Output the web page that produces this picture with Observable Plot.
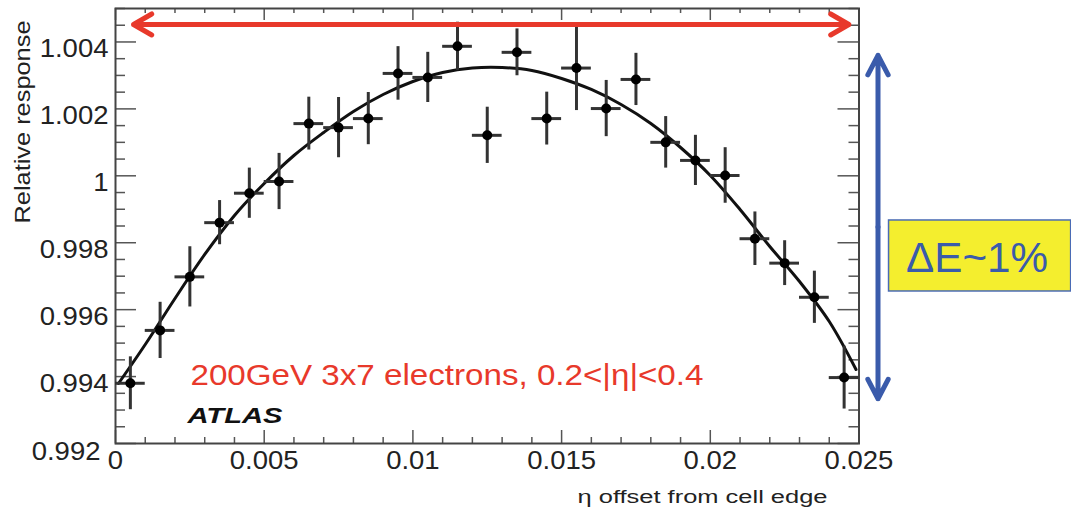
<!DOCTYPE html>
<html>
<head>
<meta charset="utf-8">
<script src="https://cdn.jsdelivr.net/npm/d3@7"></script>
<script src="https://cdn.jsdelivr.net/npm/@observablehq/plot@0.6"></script>
<style>
  html, body { margin: 0; padding: 0; background: #fff; }
  #chart { width: 1071px; height: 510px; overflow: hidden; }
</style>
</head>
<body>
<div id="chart"></div>
<script>
// ---- data ----
const etaOffset = [0.0005, 0.0015, 0.0025, 0.0035, 0.0045, 0.0055, 0.0065, 0.0075, 0.0085, 0.0095,
                   0.0105, 0.0115, 0.0125, 0.0135, 0.0145, 0.0155, 0.0165, 0.0175, 0.0185, 0.0195,
                   0.0205, 0.0215, 0.0225, 0.0235, 0.0245];
const response = [0.99380, 0.99538, 0.99698, 0.99860, 0.99948, 0.99983, 1.00156, 1.00144, 1.00171, 1.00306,
                  1.00294, 1.00387, 1.00121, 1.00369, 1.00171, 1.00322, 1.00201, 1.00288, 1.00100, 1.00046,
                  1.00001, 0.99812, 0.99739, 0.99637, 0.99397];
const responseErr = [0.00079, 0.00084, 0.00090, 0.00066, 0.00075, 0.00084, 0.00079, 0.00090, 0.00078, 0.00080,
                     0.00075, 0.00072, 0.00084, 0.00070, 0.00079, 0.00127, 0.00084, 0.00078, 0.00077, 0.00075,
                     0.00083, 0.00080, 0.00067, 0.00078, 0.00094];
const binHalfWidth = 0.0005;

// fitted curve
const fitX = [0.0001, 0.001, 0.002, 0.003, 0.004, 0.005, 0.006, 0.007, 0.008, 0.009, 0.010, 0.011, 0.012,
              0.013, 0.014, 0.015, 0.016, 0.017, 0.018, 0.019, 0.020, 0.021, 0.022, 0.023, 0.024, 0.0249];
const fitY = [0.993793, 0.994959, 0.996334, 0.997649, 0.998814, 0.999770, 1.000607, 1.001295, 1.001922,
              1.002430, 1.002819, 1.003088, 1.003222, 1.003237, 1.003148, 1.002909, 1.002580, 1.002132,
              1.001564, 1.000846, 1.000010, 0.998993, 0.997888, 0.996842, 0.995646, 0.994212];

// axes
const xDomain = [0, 0.025];
const yDomain = [0.992, 1.005];
const xTickValues = [0, 0.005, 0.01, 0.015, 0.02, 0.025];
const xTickLabels = ["0", "0.005", "0.01", "0.015", "0.02", "0.025"];
const xMinorTicks = [0.001, 0.002, 0.003, 0.004, 0.006, 0.007, 0.008, 0.009, 0.011, 0.012, 0.013, 0.014,
                     0.016, 0.017, 0.018, 0.019, 0.021, 0.022, 0.023, 0.024];
const yTickValues = [0.992, 0.994, 0.996, 0.998, 1.0, 1.002, 1.004];
const yTickLabels = ["0.992", "0.994", "0.996", "0.998", "1", "1.002", "1.004"];
const yMinorTicks = [0.9925, 0.993, 0.9935, 0.9945, 0.995, 0.9955, 0.9965, 0.997, 0.9975, 0.9985, 0.999,
                     0.9995, 1.0005, 1.001, 1.0015, 1.0025, 1.003, 1.0035, 1.0045, 1.005];
const xLabel = "\u03b7 offset from cell edge";
const yLabel = "Relative response";

// annotations (data units)
const noteText = "200GeV 3x7 electrons, 0.2<|\u03b7|<0.4";
const noteAt = {x: 0.00252, y: 0.99375};
const atlasText = "ATLAS";
const atlasAt = {x: 0.00242, y: 0.99261};
const redArrow = {x1: 0.000606, x2: 0.02466, y: 1.004522};
const blueArrow = {x: 0.025639, y1: 0.993336, y2: 1.0036};
const deltaBox = {x1: 0.026010, x2: 0.032133, y1: 0.996543, y2: 0.998665};
const deltaText = "\u0394E~1%";
const deltaAt = {x: 0.02897, y: 0.99714};

const points = etaOffset.map((x, i) => ({x, y: response[i], e: responseErr[i]}));
const fit = fitX.map((x, i) => ({x, y: fitY[i]}));

// ---- layout ----
const W = 1071, H = 510;
const mL = 115, mR = 212.5, mT = 8, mB = 67;
const FW = W - mL - mR, FH = H - mT - mB;
const tickColor = "#555";
const red = "#e8392b", blue = "#3a5bab";
const arrowWidth = 5;

const svg = Plot.plot({
  width: W, height: H,
  marginLeft: mL, marginRight: mR, marginTop: mT, marginBottom: mB,
  style: {fontFamily: "'Liberation Sans', Arial, Helvetica, sans-serif", fontSize: "25px", color: "#222", background: "#fff"},
  x: {domain: xDomain},
  y: {domain: yDomain},
  marks: [
    Plot.axisX({ticks: xTickValues, tickFormat: d => xTickLabels[xTickValues.indexOf(d)], tickSize: 0, tickPadding: 8, label: null, fontSize: 25}),
    Plot.axisY({ticks: yTickValues, tickFormat: d => yTickLabels[yTickValues.indexOf(d)], tickSize: 0, tickPadding: 7, dy: 7, label: null, fontSize: 25}),
    // inward ROOT-style ticks
    Plot.ruleY(yTickValues, {insetRight: FW - 21, stroke: tickColor, strokeWidth: 1.5}),
    Plot.ruleY(yMinorTicks, {insetRight: FW - 10, stroke: tickColor, strokeWidth: 1.5}),
    Plot.ruleY(yTickValues, {insetLeft: FW - 21, stroke: tickColor, strokeWidth: 1.5}),
    Plot.ruleY(yMinorTicks, {insetLeft: FW - 10, stroke: tickColor, strokeWidth: 1.5}),
    Plot.ruleX(xTickValues, {insetTop: FH - 13, stroke: tickColor, strokeWidth: 1.5}),
    Plot.ruleX(xMinorTicks, {insetTop: FH - 6, stroke: tickColor, strokeWidth: 1.5}),
    Plot.ruleX(xTickValues, {insetBottom: FH - 12, stroke: tickColor, strokeWidth: 1.5}),
    Plot.ruleX(xMinorTicks, {insetBottom: FH - 5, stroke: tickColor, strokeWidth: 1.5}),
    Plot.frame({stroke: "#444", strokeWidth: 2}),
    // fit
    Plot.line(fit, {x: "x", y: "y", curve: "catmull-rom", stroke: "#111", strokeWidth: 3}),
    // error bars and points
    Plot.ruleX(points, {x: "x", y1: d => d.y - d.e, y2: d => d.y + d.e, stroke: "#333", strokeWidth: 3}),
    Plot.ruleY(points, {y: "y", x1: d => d.x - binHalfWidth, x2: d => d.x + binHalfWidth, stroke: "#333", strokeWidth: 3}),
    Plot.dot(points, {x: "x", y: "y", r: 5, fill: "#000", stroke: null}),
    // texts
    Plot.text([noteAt], {x: "x", y: "y", text: () => noteText, textAnchor: "start", lineAnchor: "bottom", fontSize: 30, fill: red}),
    Plot.text([atlasAt], {x: "x", y: "y", text: () => atlasText, textAnchor: "start", lineAnchor: "bottom", fontSize: 22, fontWeight: "bold", fontStyle: "italic", fill: "#111"}),
    Plot.text([{}], {frameAnchor: "bottom-right", dx: 827 - (W - mR), dy: 502 - (H - mB), text: () => xLabel, textAnchor: "end", lineAnchor: "bottom", fontSize: 18, fill: "#222"}),
    Plot.text([{}], {frameAnchor: "top-left", dx: 29 - mL, dy: 121.5 - mT, text: () => yLabel, rotate: -90, textAnchor: "middle", lineAnchor: "bottom", fontSize: 22, fill: "#222"}),
    // red double arrow (Plot scales headLength by strokeWidth / 1.5)
    Plot.arrow([redArrow], {x1: d => (d.x1 + d.x2) / 2, x2: "x1", y1: "y", y2: "y", stroke: red, strokeWidth: arrowWidth, headLength: 21 * 1.5 / arrowWidth, headAngle: 60}),
    Plot.arrow([redArrow], {x1: d => (d.x1 + d.x2) / 2, x2: "x2", y1: "y", y2: "y", stroke: red, strokeWidth: arrowWidth, headLength: 21 * 1.5 / arrowWidth, headAngle: 60}),
    // blue double arrow
    Plot.arrow([blueArrow], {x1: "x", x2: "x", y1: d => (d.y1 + d.y2) / 2, y2: "y1", stroke: blue, strokeWidth: arrowWidth, headLength: 22 * 1.5 / arrowWidth, headAngle: 55}),
    Plot.arrow([blueArrow], {x1: "x", x2: "x", y1: d => (d.y1 + d.y2) / 2, y2: "y2", stroke: blue, strokeWidth: arrowWidth, headLength: 22 * 1.5 / arrowWidth, headAngle: 55}),
    // delta E box
    Plot.rect([deltaBox], {x1: "x1", x2: "x2", y1: "y1", y2: "y2", fill: "#f4ee2e", stroke: "#4a6bb5", strokeWidth: 1.5}),
    Plot.text([deltaAt], {x: "x", y: "y", text: () => deltaText, textAnchor: "middle", lineAnchor: "bottom", fontSize: 43, fill: blue})
  ]
});
document.getElementById("chart").append(svg);

// stretch texts horizontally like the (stretched) reference image
const targetLength = new Map([[noteText, 513], [atlasText, 95], [xLabel, 250], [yLabel, 203], [deltaText, 142]]);
d3.select(svg).selectAll("text").each(function () {
  const t = this.textContent;
  if (targetLength.has(t)) {
    this.setAttribute("textLength", targetLength.get(t));
    this.setAttribute("lengthAdjust", "spacingAndGlyphs");
  } else if (xTickLabels.includes(t) || yTickLabels.includes(t)) {
    const L = this.getComputedTextLength();
    this.setAttribute("textLength", L * 1.1);
    this.setAttribute("lengthAdjust", "spacingAndGlyphs");
  }
});
// ROOT nudges the lowest y label left to clear the x-axis "0"
d3.select(svg).selectAll("g[aria-label='y-axis tick label'] text").each(function () {
  if (this.textContent === "0.992") {
    this.setAttribute("transform", (this.getAttribute("transform") || "") + " translate(-8,1)");
  }
});
</script>
</body>
</html>
